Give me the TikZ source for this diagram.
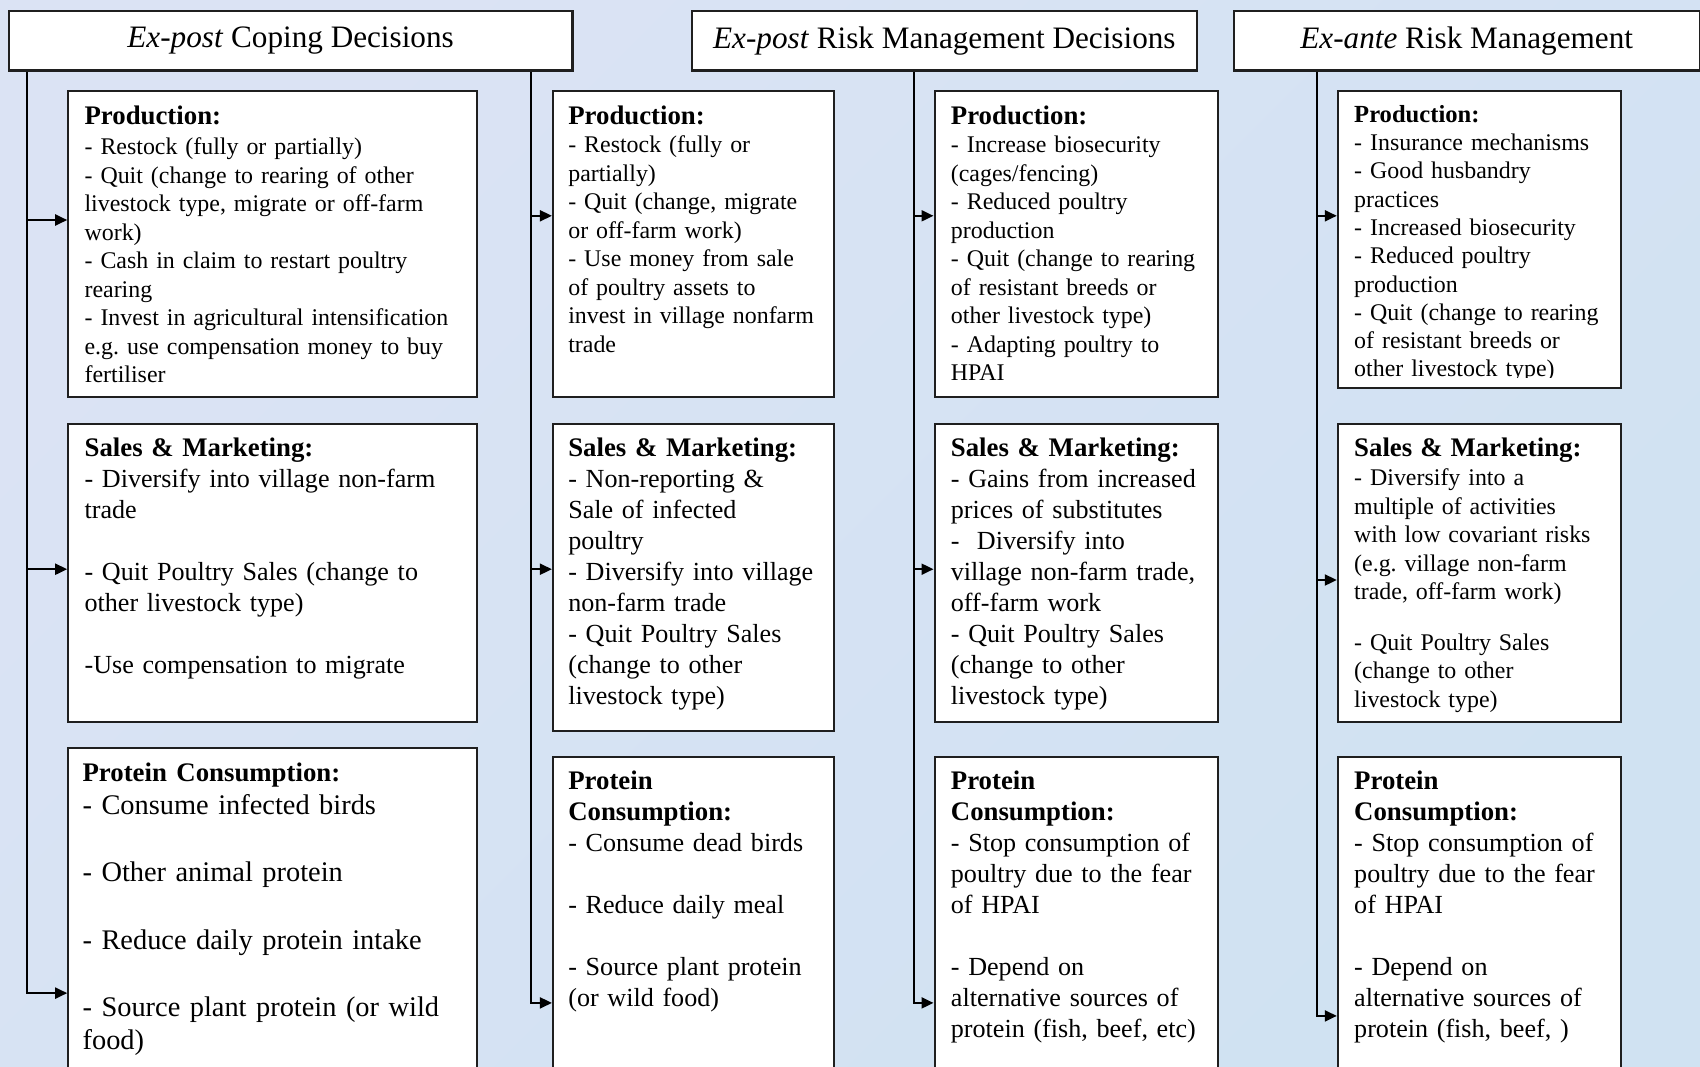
\documentclass[tikz,border=0pt]{standalone}
\usepackage{fontspec}
\setmainfont{Liberation Serif}
\usetikzlibrary{arrows.meta}
\definecolor{bgtop}{HTML}{DBE3F4}
\definecolor{bgmid}{HTML}{C4D4EC}
\definecolor{bgbot}{HTML}{D0E2F2}
\def\fsS{\fontsize{11.95pt}{14.25pt}\selectfont}
\def\fsM{\fontsize{13.05pt}{15.5pt}\selectfont}
\def\fsL{\fontsize{14.2pt}{16.8pt}\selectfont}
\def\hd#1{{\fontsize{13.4pt}{15.5pt}\selectfont\bfseries #1}}

\begin{document}
\begin{tikzpicture}[x=0.5pt,y=-0.5pt,
	head/.style={draw=black!88, fill=white, line width=1.1pt, anchor=north west, inner sep=0pt, minimum height=29.8pt, font=\fontsize{15.6pt}{18pt}\selectfont},
	panel/.style={draw=black!88, fill=white, line width=1.1pt, anchor=north west, inner sep=0pt},
	body/.style={anchor=base west, inner sep=0pt, align=left, xshift=8.5pt, yshift=-17pt},
	flow/.style={line width=1pt, -{Triangle[length=6pt,width=5.5pt]}}]
			%%%%% BACKGROUND %%%%%
			\useasboundingbox (0,0) rectangle (1700,1066);
			\clip (0,0) rectangle (1700,1066);
			\shade[top color=bgtop, middle color=bgmid, bottom color=bgbot, shading angle=45] (0,0) rectangle (1700,1066);
			
			%%%%% HEADERS %%%%%
			\node[head, minimum width=281.9pt] (h1) at (7.6,9.8) {\textit{Ex-post} Coping Decisions};
			\node[head, minimum width=252.65pt] (h2) at (690.6,9.8) {\textit{Ex-post} Risk Management Decisions};
			\node[head, minimum width=232.9pt] (h3) at (1232.7,9.8) {\textit{Ex-ante} Risk Management};
			
			%%%%% PANELS %%%%%
			\node[panel, minimum width=204.4pt, minimum height=152.85pt] (c1r1) at (67.2,90) {};
			\node[panel, minimum width=140.4pt, minimum height=152.85pt] (c2r1) at (551.9,90) {};
			\node[panel, minimum width=141.5pt, minimum height=152.85pt] (c3r1) at (933.5,90) {};
			\node[panel, minimum width=141.5pt, minimum height=148.5pt] (c4r1) at (1336.8,90) {};
			
			\node[panel, minimum width=204.4pt, minimum height=149.1pt] (c1r2) at (67.2,422.8) {};
			\node[panel, minimum width=140.4pt, minimum height=153.45pt] (c2r2) at (551.9,422.8) {};
			\node[panel, minimum width=141.5pt, minimum height=149.1pt] (c3r2) at (933.5,422.8) {};
			\node[panel, minimum width=141.5pt, minimum height=149.1pt] (c4r2) at (1336.8,422.8) {};
			
			\node[panel, minimum width=204.4pt, minimum height=200pt] (c1r3) at (67.2,747) {};
			\node[panel, minimum width=140.4pt, minimum height=200pt] (c2r3) at (551.9,755.7) {};
			\node[panel, minimum width=141.5pt, minimum height=200pt] (c3r3) at (933.5,755.7) {};
			\node[panel, minimum width=141.5pt, minimum height=200pt] (c4r3) at (1336.8,755.7) {};
			
			%%%%% TEXTS %%%%%
			\node[body, text width=204pt, font=\fsS, yshift=-0.3pt] (x11) at (c1r1.north west) {\hd{Production:}\\[0.8pt]
				- Restock (fully or partially)\\
				- Quit (change to rearing of other\\
				livestock type, migrate or off-farm\\
				work)\\
				- Cash in claim to restart poultry\\
				rearing\\
				- Invest in agricultural intensification\\
				e.g.\ use compensation money to buy\\
				fertiliser};
			\node[body, text width=140pt, font=\fsS, xshift=-0.5pt] (x21) at (c2r1.north west) {\hd{Production:}\\
				- Restock (fully or\\
				partially)\\
				- Quit (change, migrate\\
				or off-farm work)\\
				- Use money from sale\\
				of poultry assets to\\
				invest in village nonfarm\\
				trade};
			\node[body, text width=141pt, font=\fsS] (x31) at (c3r1.north west) {\hd{Production:}\\
				- Increase biosecurity\\
				(cages/fencing)\\
				- Reduced poultry\\
				production\\
				- Quit (change to rearing\\
				of resistant breeds or\\
				other livestock type)\\
				- Adapting poultry to\\
				HPAI};
			\begin{scope}
				\clip (c4r1.north west) rectangle (1620,377);
				\node[body, text width=141pt, font=\fontsize{11.95pt}{14.15pt}\selectfont, yshift=0.9pt] (x41) at (c4r1.north west) {{\fontsize{12.3pt}{14pt}\selectfont\bfseries Production:}\\
					- Insurance mechanisms\\
					- Good husbandry\\
					practices\\
					- Increased biosecurity\\
					- Reduced poultry\\
					production\\
					- Quit (change to rearing\\
					of resistant breeds or\\
					other livestock type)};
			\end{scope}
			
			\node[body, text width=204pt, font=\fsM] (x12) at (c1r2.north west) {\hd{Sales \& Marketing:}\\
				- Diversify into village non-farm\\
				trade\\[\baselineskip]
				- Quit Poultry Sales (change to\\
				other livestock type)\\[\baselineskip]
				-Use compensation to migrate};
			\node[body, text width=140pt, font=\fsM, xshift=-0.5pt] (x22) at (c2r2.north west) {\hd{Sales \& Marketing:}\\
				- Non-reporting \&\\
				Sale of infected\\
				poultry\\
				- Diversify into village\\
				non-farm trade\\
				- Quit Poultry Sales\\
				(change to other\\
				livestock type)};
			\node[body, text width=141pt, font=\fsM] (x32) at (c3r2.north west) {\hd{Sales \& Marketing:}\\
				- Gains from increased\\
				prices of substitutes\\
				-\ \ Diversify into\\
				village non-farm trade,\\
				off-farm work\\
				- Quit Poultry Sales\\
				(change to other\\
				livestock type)};
			\node[body, text width=141pt, font=\fsS] (x42) at (c4r2.north west) {\hd{Sales \& Marketing:}\\[0.3pt]
				- Diversify into a\\
				multiple of activities\\
				with low covariant risks\\
				(e.g.\ village non-farm\\
				trade, off-farm work)\\[11pt]
				- Quit Poultry Sales\\
				(change to other\\
				livestock type)};
			
			\node[body, text width=204pt, font=\fsL, xshift=-1pt] (x13) at (c1r3.north west) {\hd{Protein Consumption:}\\
				- Consume infected birds\\[\baselineskip]
				- Other animal protein\\[\baselineskip]
				- Reduce daily protein intake\\[\baselineskip]
				- Source plant protein (or wild\\
				food)};
			\node[body, text width=140pt, font=\fsM, xshift=-0.5pt] (x23) at (c2r3.north west) {\hd{Protein}\\
				\hd{Consumption:}\\
				- Consume dead birds\\[\baselineskip]
				- Reduce daily meal\\[\baselineskip]
				- Source plant protein\\
				(or wild food)};
			\node[body, text width=141pt, font=\fsM] (x33) at (c3r3.north west) {\hd{Protein}\\
				\hd{Consumption:}\\
				- Stop consumption of\\
				poultry due to the fear\\
				of HPAI\\[\baselineskip]
				- Depend on\\
				alternative sources of\\
				protein (fish, beef, etc)};
			\node[body, text width=141pt, font=\fsM] (x43) at (c4r3.north west) {\hd{Protein}\\
				\hd{Consumption:}\\
				- Stop consumption of\\
				poultry due to the fear\\
				of HPAI\\[\baselineskip]
				- Depend on\\
				alternative sources of\\
				protein (fish, beef, )};
			
			%%%%% CONNECTORS %%%%%
			\coordinate (a11) at (27.1,220);
			\coordinate (a12) at (27.1,569.2);
			\coordinate (a13) at (27.1,993.1);
			\draw[flow] (h1.south -| a13) |- (c1r3.west |- a13);
			\draw[flow] (a11) -- (c1r1.west |- a11);
			\draw[flow] (a12) -- (c1r2.west |- a12);
			
			\coordinate (a21) at (531.3,215.8);
			\coordinate (a22) at (531.3,569.2);
			\coordinate (a23) at (531.3,1002.9);
			\draw[flow] (h1.south -| a23) |- (c2r3.west |- a23);
			\draw[flow] (a21) -- (c2r1.west |- a21);
			\draw[flow] (a22) -- (c2r2.west |- a22);
			
			\coordinate (a31) at (914,215.8);
			\coordinate (a32) at (914,569.2);
			\coordinate (a33) at (914,1002.9);
			\draw[flow] (h2.south -| a33) |- (c3r3.west |- a33);
			\draw[flow] (a31) -- (c3r1.west |- a31);
			\draw[flow] (a32) -- (c3r2.west |- a32);
			
			\coordinate (a41) at (1317.3,215.8);
			\coordinate (a42) at (1317.3,580);
			\coordinate (a43) at (1317.3,1015.9);
			\draw[flow] (h3.south -| a43) |- (c4r3.west |- a43);
			\draw[flow] (a41) -- (c4r1.west |- a41);
			\draw[flow] (a42) -- (c4r2.west |- a42);
			
\end{tikzpicture}
\end{document}
